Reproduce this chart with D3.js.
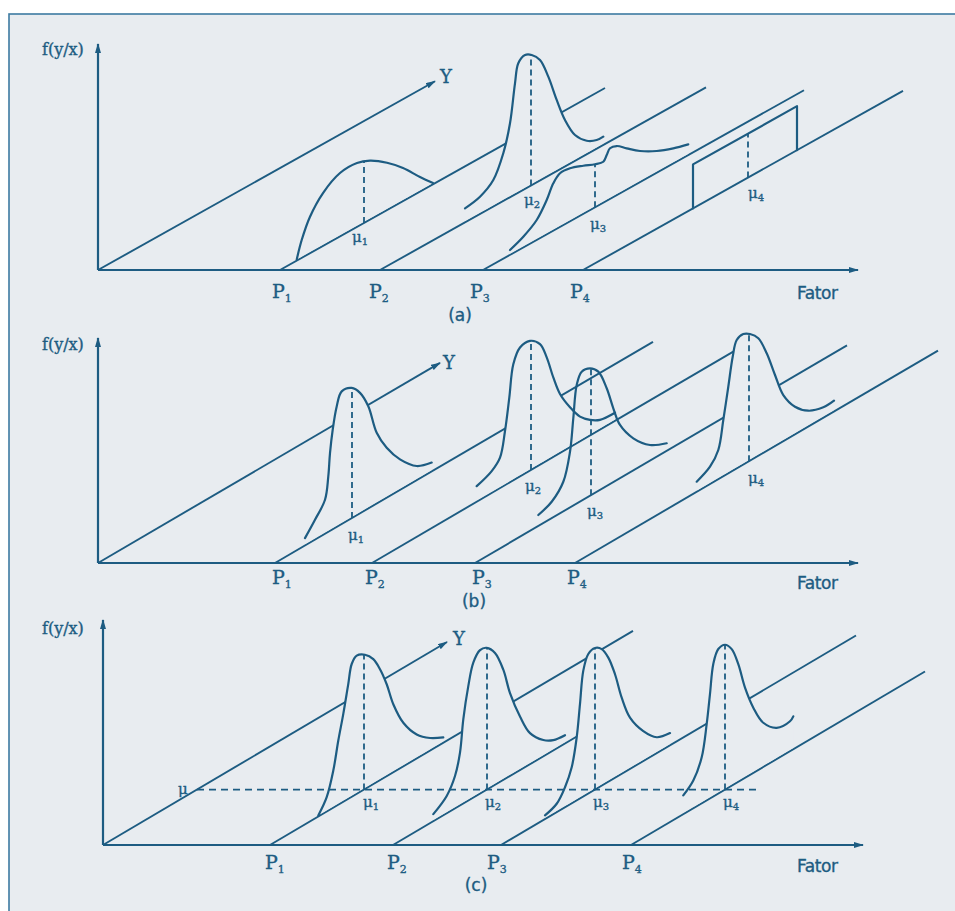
<!DOCTYPE html>
<html><head><meta charset="utf-8">
<script src="https://cdn.jsdelivr.net/npm/d3@7"></script>
<style>
html,body{margin:0;padding:0;background:#fff;}
svg{display:block}
</style></head><body>
<svg id="chart" width="955" height="911"></svg>
<script>
// ---------------- DATA ----------------
const panelNames = ["(a)", "(b)", "(c)"];
const factorNames = ["1", "2", "3", "4"];          // subscripts of P
const labelF = "f(y/x)";
const labelY = "Y";
const labelX = "Fator";
const labelMu = "\u03bc";

// positions of P1..P4 on the Fator axis (Fator units from origin)
const factorPosA = [182, 282, 385, 485];
const factorPosB = [177, 274, 377, 477];
const factorPosC = [167, 290, 398, 528];

// length (in Y units) of each P line
const lineDepthA = [325, 326, 321, 320];
const lineDepthB = [378, 363, 372, 363];
const lineDepthC = [363, 205, 355, 294];
const yAxisDepth = [337, 342, 344];

// mean (Y value) of each conditional distribution
const meanDepthA = [84, 151, 112, 165];
const meanDepthB = [77, 159, 116, 174];
const meanDepthC = [94, 94, 94, 94];
const commonMeanC = 94;

// conditional densities f(y/x): [Y, f] pairs
const curveA1 = [[16.7,1],[21.7,17.8],[30,36.5],[43,52.9],[60,63.4],[77,63.9],[90,58.9],[107,47.3],[123,33.1],[140,14.6],[153,1.3]];
const curveA2 = [[85,14.1],[100,17.3],[113.3,26.5],[123.3,47.7],[130,73.9],[135,111.1],[138.3,129.3],[145,133.8],[151.7,130.1],[160,120.4],[168.3,99.1],[176.7,71.1],[185,46.4],[195,25.8],[206.7,13.5],[216.7,8.6],[223.3,8.3]];
const curveA3 = [[27,4.9],[40.3,10.7],[53.7,19.9],[63.7,34.3],[70.3,47.3],[77,53.6],[87,53],[100.3,48.1],[112,43],[120.3,40.9],[123.7,45.7],[127,50.6],[133.7,49.1],[143.7,41.2],[157,31.1],[173.7,21.7],[190.3,15.1],[205.3,10.7]];
const curveA4 = [[110,0],[110,44],[214,44],[214,0]];   // uniform density

const curveB1 = [[30,7.3],[40,19.8],[50,34],[53.3,55.4],[55,77.8],[57.7,99.5],[61.7,120.5],[66.7,132.6],[76.7,130.2],[85,120.4],[93.3,102.2],[101.7,70.7],[111.7,49.9],[125,30.5],[141.7,14.1],[156.7,8.8]];
const curveB2 = [[104.7,15.6],[119.7,21.9],[128,30.5],[133,54.2],[137.3,85.1],[141.3,116],[148,128.9],[158,129.7],[168,120.6],[174.7,103.4],[181.3,79.5],[188,59],[198,39.9],[208,24.7],[218,15.6],[228,9.8],[243,8.1]];
const curveB3 = [[63.3,11],[76.7,16.4],[88.3,29.6],[95,55.7],[98.3,87.2],[101.7,118.5],[106.7,128.9],[115,127.4],[123.3,119.2],[131.7,97.7],[138.3,73.8],[145,53.2],[158.3,32.1],[175,15.6],[191.7,7.6]];
const curveB4 = [[121.7,10.1],[135,17.3],[143.3,29.2],[148.3,56.2],[153.3,86.6],[157.7,114],[161.7,128.4],[168.3,130.5],[175,126.6],[183.3,117.5],[191.7,97.6],[200,71],[208.3,46.1],[220,27.6],[233.3,15.8],[248.3,10.4],[259,10.8]];

const curveC1 = [[48.3,1.1],[56.7,14.4],[63.3,37.1],[68.3,64.2],[73.3,87.9],[78.3,114.9],[81.7,132.8],[86.7,138.2],[95,134.2],[103.3,124.9],[110,110.9],[116.7,91.9],[123.3,68],[133.3,43.6],[146.7,24],[160,12.6],[173.3,5.4]];
const curveC2 = [[40.3,7.1],[53.7,17.4],[62,32.4],[67,52.8],[70.3,84.2],[75.3,114.5],[80.3,134.9],[87,143.5],[93.7,141.9],[102,131.9],[110.3,110.2],[117,82.9],[127,53.6],[137,31],[150.3,16.3],[160.3,10.3],[172,8.3]];
const curveC3 = [[44,3.7],[55.7,8.4],[64,20],[70.7,36],[75.7,63],[79,94.5],[82.3,125.8],[87.3,139.5],[94,141.5],[100.7,136.5],[107.3,124.1],[114,103.5],[120.7,76.1],[129,51.2],[142.3,29.9],[155.7,15.9],[169,12.2]];
const curveC4 = [[52.3,18.7],[62.3,27.7],[70.7,46],[75.7,76.4],[79,104.5],[82.3,132.5],[87.3,144.5],[94,144.8],[100.7,136.5],[107.3,117.5],[114,90.1],[122.3,65.2],[132.3,44.2],[145.7,31.2],[159,29.9],[162.3,32.9]];

// ---------------- LAYOUT / STYLE ----------------
const W = 955, H = 911;
const ink = "#1d5c82", bg = "#e8ecf0";
const serif = "'DejaVu Serif', 'Liberation Serif', serif";
const sans = "'DejaVu Sans', 'Liberation Sans', sans-serif";

const panels = [
  { name: panelNames[0], ox: 98, oy: 270, k: 0.56, fTop: 226, xLen: 760,
    fpos: factorPosA, depth: lineDepthA, yDepth: yAxisDepth[0], means: meanDepthA,
    curves: [curveA1, curveA2, curveA3, curveA4], smooth: [1,1,1,0], opaque: [1,1,1,0],
    fLabelY: 55, xLabelY: 299, pLabelDy: 28, pLabelDx: [-8,-11,-13,-13],
    yLabel: [5, 2], muOff: [[-12,19],[-7,20],[-5,22],[0,20]], nameX: 460, nameY: 321 },
  { name: panelNames[1], ox: 98, oy: 563, k: 0.585, fTop: 225, xLen: 760,
    fpos: factorPosB, depth: lineDepthB, yDepth: yAxisDepth[1], means: meanDepthB,
    curves: [curveB1, curveB2, curveB3, curveB4], smooth: [1,1,1,1], opaque: [1,1,0,1],
    fLabelY: 350, xLabelY: 589, pLabelDy: 21, pLabelDx: [-3,-7,-3,-8],
    yLabel: [3, 6], muOff: [[-4,22],[-6,21],[-4,21],[-1,22]], nameX: 474, nameY: 607 },
  { name: panelNames[2], ox: 103, oy: 845, k: 0.59, fTop: 225, xLen: 760,
    fpos: factorPosC, depth: lineDepthC, yDepth: yAxisDepth[2], means: meanDepthC,
    curves: [curveC1, curveC2, curveC3, curveC4], smooth: [1,1,1,1], opaque: [1,1,1,1],
    fLabelY: 634, xLabelY: 872, pLabelDy: 24, pLabelDx: [-5,-6,-14,-9],
    yLabel: [6, 3], muOff: [[-1,17],[-2,17],[-2,17],[-2,17]], nameX: 476, nameY: 891,
    common: commonMeanC, commonEnd: 561 }
];

// ---------------- DRAW ----------------
const svg = d3.select("#chart");
svg.append("rect").attr("width", W).attr("height", H).attr("fill", "#fff");
svg.append("rect").attr("x", 9).attr("y", 14).attr("width", W).attr("height", H + 10)
  .attr("fill", bg).attr("stroke", "#3d7ba2").attr("stroke-width", 1.6);

const defs = svg.append("defs");
defs.append("marker").attr("id", "arr").attr("viewBox", "0 0 10 6")
  .attr("refX", 9).attr("refY", 3).attr("markerWidth", 10).attr("markerHeight", 6)
  .attr("markerUnits", "userSpaceOnUse").attr("orient", "auto")
  .append("path").attr("d", "M0,0 L10,3 L0,6 Z").attr("fill", ink);

function interpH(pts, d) {
  for (let i = 0; i < pts.length - 1; i++) {
    const a = pts[i], b = pts[i + 1];
    if (b[0] > a[0] && d >= a[0] && d <= b[0]) {
      return a[1] + (b[1] - a[1]) * (d - a[0]) / (b[0] - a[0]);
    }
  }
  return 0;
}

panels.forEach(p => {
  const g = svg.append("g");
  const xF = d3.scaleLinear().domain([0, p.xLen]).range([p.ox, p.ox + p.xLen]);
  const xD = d3.scaleLinear().domain([0, 100]).range([0, 100]);
  const yD = d3.scaleLinear().domain([0, 100]).range([0, 100 * p.k]);
  const yH = d3.scaleLinear().domain([0, p.fTop]).range([p.oy, p.oy - p.fTop]);
  const X = (f, d) => xF(f) + xD(d);
  const Y = (d, h) => yH(h) - yD(d);
  const seg = d3.line();

  // axes
  g.append("path").attr("d", seg([[X(0,0), Y(0,0)], [X(0,0), Y(0,p.fTop)]]))
    .attr("stroke", ink).attr("stroke-width", 2.2).attr("fill", "none").attr("marker-end", "url(#arr)");
  g.append("path").attr("d", seg([[X(0,0), Y(0,0)], [X(p.xLen,0), Y(0,0)]]))
    .attr("stroke", ink).attr("stroke-width", 2.2).attr("fill", "none").attr("marker-end", "url(#arr)");
  g.append("path").attr("d", seg([[X(0,0), Y(0,0)], [X(0,p.yDepth), Y(p.yDepth,0)]]))
    .attr("stroke", ink).attr("stroke-width", 1.9).attr("fill", "none").attr("marker-end", "url(#arr)");

  // P lines
  p.fpos.forEach((f, i) => {
    g.append("path").attr("d", seg([[X(f,0), Y(0,0)], [X(f,p.depth[i]), Y(p.depth[i],0)]]))
      .attr("stroke", ink).attr("stroke-width", 1.9).attr("fill", "none");
  });

  // opaque fills hiding lines behind distributions
  p.curves.forEach((c, i) => {
    if (!p.opaque[i]) return;
    const f = p.fpos[i];
    const area = d3.area()
      .x(q => X(f, q[0])).y0(q => Y(q[0], 1.4)).y1(q => Y(q[0], q[1]))
      .curve(d3.curveCatmullRom.alpha(0.5));
    g.append("path").attr("d", area(c)).attr("fill", bg).attr("stroke", "none");
  });

  // curve strokes
  p.curves.forEach((c, i) => {
    const f = p.fpos[i];
    const ln = d3.line().x(q => X(f, q[0])).y(q => Y(q[0], q[1]))
      .curve(p.smooth[i] ? d3.curveCatmullRom.alpha(0.5) : d3.curveLinear);
    g.append("path").attr("d", ln(c)).attr("fill", "none").attr("stroke", ink)
      .attr("stroke-width", 2.2).attr("stroke-linejoin", "round").attr("stroke-linecap", "round");
  });

  // dashed mean lines
  p.curves.forEach((c, i) => {
    const f = p.fpos[i], m = p.means[i];
    const top = interpH(c, m);
    g.append("path").attr("d", seg([[X(f, m), Y(m, 0)], [X(f, m), Y(m, top)]]))
      .attr("stroke", ink).attr("stroke-width", 1.8).attr("stroke-dasharray", "6,4").attr("fill", "none");
  });
  if (p.common !== undefined) {
    g.append("path").attr("d", seg([[X(0, p.common), Y(p.common, 0)], [X(p.commonEnd, p.common), Y(p.common, 0)]]))
      .attr("stroke", ink).attr("stroke-width", 1.8).attr("stroke-dasharray", "7,5").attr("fill", "none");
    g.append("text").attr("x", X(0, p.common) - 19).attr("y", Y(p.common, 0) + 4)
      .attr("font-family", serif).attr("font-size", 15).attr("fill", ink)
      .attr("stroke", ink).attr("stroke-width", 0.35).text(labelMu);
  }

  // texts
  const txt = (sel) => sel.attr("fill", ink).attr("stroke", ink).attr("stroke-width", 0.35);
  txt(g.append("text").attr("x", 42).attr("y", p.fLabelY).attr("font-family", serif)
    .attr("font-size", 16)).text(labelF);
  txt(g.append("text").attr("x", 797).attr("y", p.xLabelY).attr("font-family", sans)
    .attr("font-size", 17).attr("letter-spacing", -0.4)).text(labelX);
  txt(g.append("text").attr("x", X(0, p.yDepth) + p.yLabel[0]).attr("y", Y(p.yDepth, 0) + p.yLabel[1])
    .attr("font-family", serif).attr("font-size", 18)).text(labelY);
  txt(g.append("text").attr("x", p.nameX).attr("y", p.nameY).attr("text-anchor", "middle")
    .attr("font-family", sans).attr("font-size", 17)).text(p.name);

  p.fpos.forEach((f, i) => {
    const t = txt(g.append("text").attr("x", X(f, 0) + p.pLabelDx[i]).attr("y", Y(0, 0) + p.pLabelDy)
      .attr("font-family", serif).attr("font-size", 19));
    t.append("tspan").text("P");
    t.append("tspan").attr("font-size", 11).attr("dy", 4).text(factorNames[i]);
  });

  p.means.forEach((m, i) => {
    const f = p.fpos[i];
    const t = txt(g.append("text").attr("x", X(f, m) + p.muOff[i][0]).attr("y", Y(m, 0) + p.muOff[i][1])
      .attr("font-family", serif).attr("font-size", 15));
    t.append("tspan").text(labelMu);
    t.append("tspan").attr("font-size", 10).attr("dy", 3).text(factorNames[i]);
  });
});
</script>
</body></html>
